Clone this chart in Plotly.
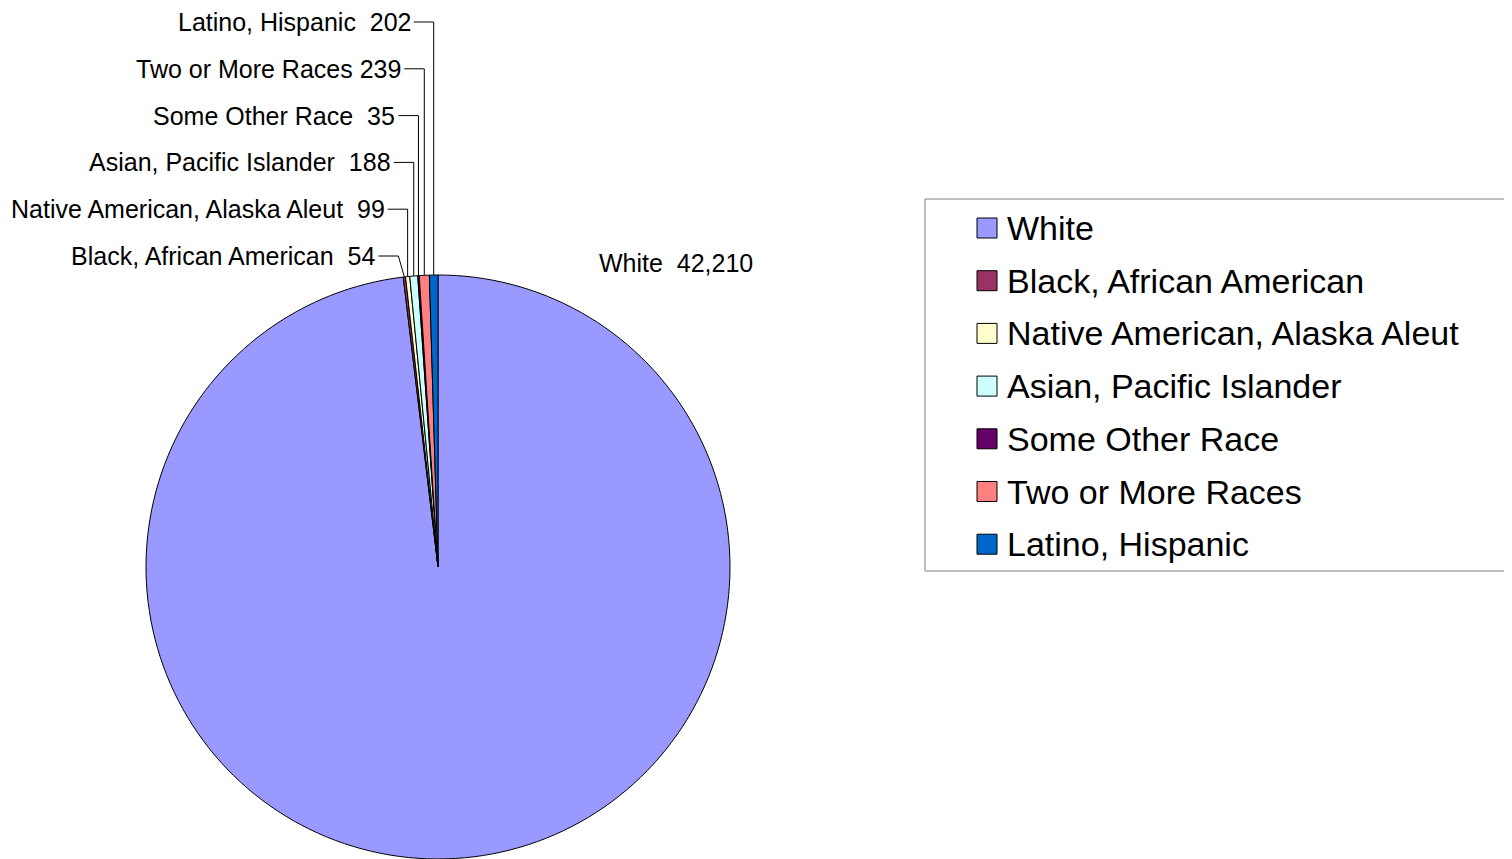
import math
import plotly.graph_objects as go

# ---- data ----
categories = ["White", "Black, African American", "Native American, Alaska Aleut",
              "Asian, Pacific Islander", "Some Other Race", "Two or More Races",
              "Latino, Hispanic"]
values = [42210, 54, 99, 188, 35, 239, 202]
value_labels = ["42,210", "54", "99", "188", "35", "239", "202"]
colors = ["#9999FF", "#993366", "#FFFFCC", "#CCFFFF", "#660066", "#FF8080", "#0066CC"]

# ---- layout constants (screen pixels) ----
W, H = 1512, 859
OFF = 8  # page body margin
CX, CY, R = 438, 567, 292
FONT = "Liberation Sans, Arial, sans-serif"
NB = "\u00a0"
LABEL_SIZE = 25
LEGEND_SIZE = 34


def px(x):
    return (x - OFF) / W


def py(y):
    return 1 - (y - OFF) / H


fig = go.Figure()
fig.add_trace(go.Pie(
    labels=categories, values=values, sort=False, direction="clockwise", rotation=0,
    marker=dict(colors=colors, line=dict(color="black", width=1)),
    textinfo="none", showlegend=False, hoverinfo="label+value",
    domain=dict(x=[px(CX - R), px(CX + R)], y=[py(CY + R), py(CY - R)]),
))

shapes = []
annotations = []
total = sum(values)

# slice mid angles (clockwise from 12 o'clock)
cum = 0.0
mids = []
for v in values:
    mids.append((cum + v / 2) / total * 360.0)
    cum += v

row_base, row_step = 256, 46.8
for i in range(1, len(categories)):
    a = math.radians(mids[i])
    ex = CX + R * math.sin(a)
    ey = CY - R * math.cos(a)
    ry = row_base - (i - 1) * row_step
    # elbow of the leader line (first row bends a little earlier, like the original)
    bx = ex - 6 if i == 1 else ex
    sep = (NB + " ") if categories[i] != "Two or More Races" else " "
    annotations.append(dict(
        x=px(bx - 21), y=py(ry), xref="paper", yref="paper",
        xanchor="right", yanchor="middle", showarrow=False,
        text=categories[i] + sep + value_labels[i],
        font=dict(family=FONT, size=LABEL_SIZE, color="black"),
    ))
    shapes.append(dict(type="path", xref="paper", yref="paper",
                       path=f"M{px(bx - 20)},{py(ry)} L{px(bx)},{py(ry)} L{px(ex)},{py(ey)}",
                       line=dict(color="black", width=1)))

# White label
annotations.append(dict(
    x=px(597), y=py(263), xref="paper", yref="paper",
    xanchor="left", yanchor="middle", showarrow=False,
    text=categories[0] + NB + " " + value_labels[0],
    font=dict(family=FONT, size=LABEL_SIZE, color="black"),
))

# custom legend
shapes.append(dict(type="rect", xref="paper", yref="paper",
                   x0=px(925), x1=px(W + 20), y0=py(571), y1=py(199),
                   line=dict(color="#808080", width=1), fillcolor="white", layer="below"))
for i, (name, col) in enumerate(zip(categories, colors)):
    yc = 228 + i * 52.7
    shapes.append(dict(type="rect", xref="paper", yref="paper",
                       x0=px(977), x1=px(997), y0=py(yc + 10), y1=py(yc - 10),
                       fillcolor=col, line=dict(color="black", width=1)))
    annotations.append(dict(
        x=px(1005), y=py(yc), xref="paper", yref="paper",
        xanchor="left", yanchor="middle", showarrow=False, text=name,
        font=dict(family=FONT, size=LEGEND_SIZE, color="black"),
    ))

fig.update_layout(
    width=W, height=H, margin=dict(l=0, r=0, t=0, b=0),
    paper_bgcolor="white", plot_bgcolor="white",
    shapes=shapes, annotations=annotations,
    font=dict(family=FONT, color="black"),
)

fig.write_html("out.html")
